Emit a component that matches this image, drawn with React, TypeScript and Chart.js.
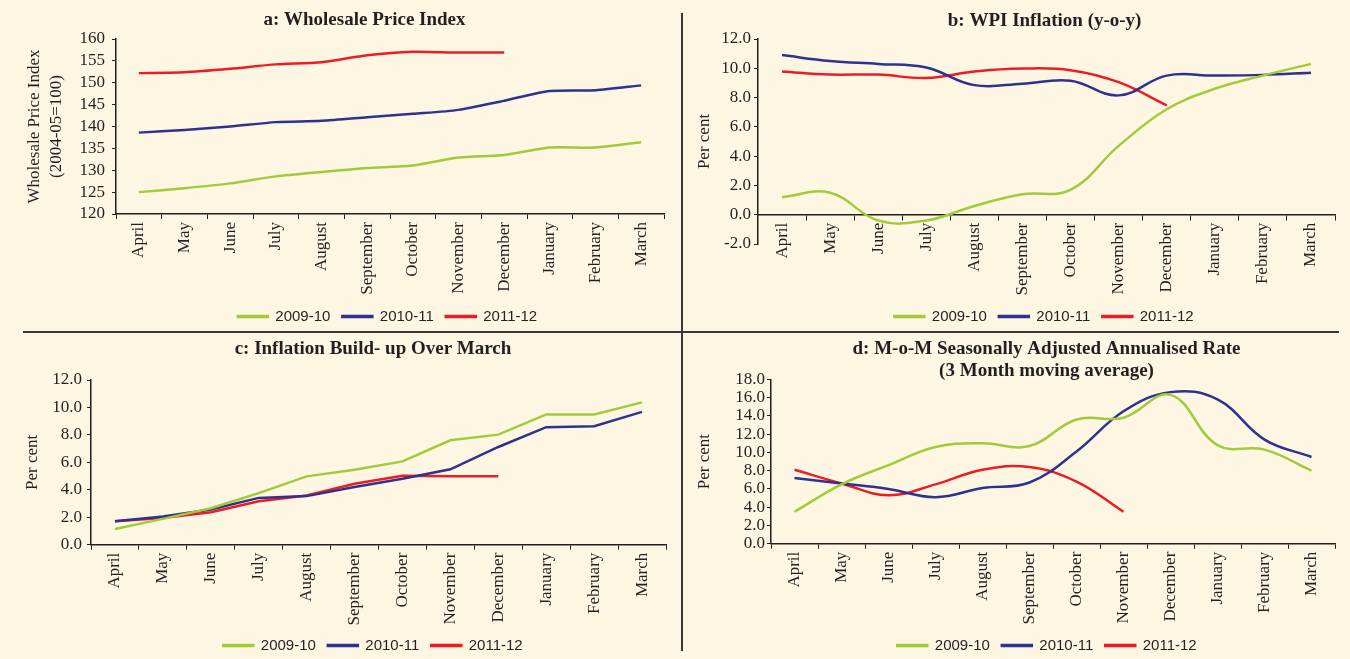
import React, { useEffect, useRef } from "react";
import { Chart, registerables } from "chart.js";

Chart.register(...registerables);

// ---------- data ----------
const months = ["April", "May", "June", "July", "August", "September", "October", "November", "December", "January", "February", "March"];
const seriesLabels = ["2009-10", "2010-11", "2011-12"];
const seriesColors = ["#A2CB3A", "#2E3192", "#ED1C24"];

// a: Wholesale Price Index
const wpi0910 = [125.0, 125.9, 127.0, 128.6, 129.6, 130.5, 131.1, 132.9, 133.5, 135.2, 135.2, 136.4];
const wpi1011 = [138.6, 139.2, 140.0, 141.0, 141.3, 142.1, 142.9, 143.8, 145.9, 148.1, 148.3, 149.4];
const wpi1112 = [152.2, 152.4, 153.2, 154.2, 154.7, 156.3, 157.1, 156.9, 156.9];

// b: WPI Inflation (y-o-y)
const yoy0910 = [1.2, 1.5, -0.4, -0.4, 0.6, 1.4, 1.7, 4.7, 7.2, 8.6, 9.5, 10.3];
const yoy1011 = [10.9, 10.5, 10.3, 10.05, 8.85, 8.95, 9.15, 8.15, 9.5, 9.5, 9.55, 9.7];
const yoy1112 = [9.78, 9.57, 9.57, 9.34, 9.78, 9.98, 9.87, 9.05, 7.47];

// c: Inflation Build-up Over March
const bu0910 = [1.15, 1.88, 2.66, 3.76, 4.98, 5.46, 6.07, 7.61, 8.02, 9.49, 9.49, 10.37];
const bu1011 = [1.71, 2.05, 2.56, 3.41, 3.54, 4.2, 4.8, 5.49, 7.12, 8.56, 8.63, 9.68];
const bu1112 = [1.71, 1.95, 2.37, 3.17, 3.59, 4.44, 5.02, 4.98, 4.98];

// d: M-o-M SAAR (3 month moving average)
const saar0910 = [3.5, 6.5, 8.6, 10.6, 11.0, 10.7, 13.6, 13.8, 16.3, 10.8, 10.3, 8.0];
const saar1011 = [7.2, 6.6, 6.0, 5.1, 6.1, 6.7, 10.1, 14.5, 16.6, 15.8, 11.4, 9.5];
const saar1112 = [8.1, 6.6, 5.3, 6.5, 8.1, 8.4, 6.8, 3.5];

// ---------- styles ----------
const SERIF = "'Liberation Serif', 'DejaVu Serif', serif";
const SANS = "'Liberation Sans', 'DejaVu Sans', sans-serif";
const INK = "#231f20";
const BG = "#FDF6E2";

interface PanelProps {
  left: number;
  top: number;
  width: number;
  height: number;
  title: string | string[];
  titleLH: number;
  titlePadTop: number;
  titlePadBottom: number;
  titleCenter: number;
  legendCenter: number;
  yMin: number;
  yMax: number;
  yStep: number;
  yDec: number;
  yTitle: string | string[];
  yTitlePad: number;
  yWidth: number;
  yTickPad: number;
  xHeight: number;
  xAtZero: boolean;
  padRight: number;
  tension: number;
  series: number[][];
}

function Panel(p: PanelProps) {
  const ref = useRef<HTMLCanvasElement>(null);
  useEffect(() => {
    const canvas = ref.current;
    if (!canvas) return;
    const datasets = p.series.map((vals, i) => ({
      label: seriesLabels[i],
      data: vals,
      borderColor: seriesColors[i],
      backgroundColor: seriesColors[i],
      borderWidth: 2.5,
      pointRadius: 0,
      pointHoverRadius: 0,
      tension: p.tension,
      fill: false,
      xAxisID: "x",
      yAxisID: "y",
    }));

    const scales: any = {
      x: {
        type: "category",
        offset: true,
        position: p.xAtZero ? { y: 0 } : "bottom",
        ticks: {
          color: INK,
          font: { family: SERIF, size: 17 },
          maxRotation: 90,
          minRotation: 90,
          autoSkip: false,
          padding: 3,
        },
        grid: { offset: true, drawOnChartArea: false, drawTicks: true, tickLength: 5, color: INK, lineWidth: 1 },
        border: { display: true, color: INK, width: 1.5 },
        afterFit: (s: any) => {
          if (!p.xAtZero) s.height = p.xHeight;
        },
      },
      y: {
        type: "linear",
        min: p.yMin,
        max: p.yMax,
        ticks: {
          stepSize: p.yStep,
          autoSkip: false,
          color: INK,
          font: { family: SERIF, size: 17 },
          padding: p.yTickPad,
          callback: (v: any) => Number(v).toFixed(p.yDec),
        },
        grid: { drawOnChartArea: false, drawTicks: true, tickLength: 4, color: INK, lineWidth: 1 },
        border: { display: true, color: INK, width: 1.5 },
        title: {
          display: true,
          text: p.yTitle,
          color: INK,
          font: { family: SERIF, size: 17, lineHeight: 1.3 },
          padding: { top: p.yTitlePad, bottom: 0 },
        },
        afterFit: (s: any) => {
          s.width = p.yWidth;
        },
      },
    };
    if (p.xAtZero) {
      scales.xpad = {
        type: "category",
        axis: "x",
        position: "bottom",
        labels: months,
        display: true,
        ticks: { display: false },
        grid: { display: false, drawTicks: false },
        border: { display: false },
        afterFit: (s: any) => {
          s.height = p.xHeight;
        },
      };
    }

    const shift = {
      id: "shiftBlocks",
      afterLayout(chart: any) {
        const t = chart.titleBlock;
        if (t) {
          const w = t.right - t.left;
          t.left = p.titleCenter - w / 2;
          t.right = p.titleCenter + w / 2;
        }
        const l = chart.legend;
        if (l) {
          const w = l.right - l.left;
          l.left = p.legendCenter - w / 2;
          l.right = p.legendCenter + w / 2;
        }
      },
    };

    const chart = new Chart(canvas, {
      type: "line",
      data: { labels: months, datasets },
      options: {
        responsive: false,
        animation: false,
        devicePixelRatio: 1,
        layout: { padding: { left: 0, right: p.padRight, top: 0, bottom: 0 } },
        plugins: {
          title: {
            display: true,
            text: p.title,
            color: INK,
            fullSize: false,
            font: { family: SERIF, size: 19, weight: "bold", lineHeight: p.titleLH },
            padding: { top: p.titlePadTop, bottom: p.titlePadBottom },
          },
          legend: {
            display: true,
            position: "bottom",
            fullSize: false,
            labels: {
              boxWidth: 30,
              boxHeight: 1,
              padding: 12,
              color: INK,
              font: { family: SANS, size: 15 },
            },
          },
          tooltip: { enabled: false },
        },
        scales,
      } as any,
      plugins: [shift],
    });
    return () => chart.destroy();
  }, []);
  return (
    <canvas
      ref={ref}
      width={p.width}
      height={p.height}
      style={{ position: "absolute", left: p.left, top: p.top, width: p.width, height: p.height }}
    />
  );
}

export default function App() {
  return (
    <div
      style={{
        position: "fixed",
        left: 0,
        top: 0,
        width: 1350,
        height: 659,
        overflow: "hidden",
        background: BG,
      }}
    >
      <Panel
        left={0}
        top={0}
        width={680}
        height={334}
        title="a: Wholesale Price Index"
        titleLH={1.2}
        titlePadTop={9}
        titlePadBottom={7.2}
        titleCenter={364.5}
        legendCenter={387.5}
        yMin={120}
        yMax={160}
        yStep={5}
        yDec={0}
        yTitle={["Wholesale Price Index", "(2004-05=100)"]}
        yTitlePad={23}
        yWidth={116}
        yTickPad={7}
        xHeight={83}
        xAtZero={false}
        padRight={16}
        tension={0.25}
        series={[wpi0910, wpi1011, wpi1112]}
      />
      <Panel
        left={682}
        top={0}
        width={668}
        height={334}
        title="b: WPI Inflation (y-o-y)"
        titleLH={1.2}
        titlePadTop={9.5}
        titlePadBottom={6.7}
        titleCenter={362.6}
        legendCenter={362}
        yMin={-2}
        yMax={12}
        yStep={2}
        yDec={1}
        yTitle="Per cent"
        yTitlePad={11.5}
        yWidth={76}
        yTickPad={3}
        xHeight={53}
        xAtZero={true}
        padRight={15}
        tension={0.4}
        series={[yoy0910, yoy1011, yoy1112]}
      />
      <Panel
        left={0}
        top={332}
        width={680}
        height={331}
        title="c: Inflation Build- up Over March"
        titleLH={1.2}
        titlePadTop={5.6}
        titlePadBottom={19.6}
        titleCenter={373}
        legendCenter={373}
        yMin={0}
        yMax={12}
        yStep={2}
        yDec={1}
        yTitle="Per cent"
        yTitlePad={21.5}
        yWidth={91}
        yTickPad={5}
        xHeight={81.3}
        xAtZero={false}
        padRight={14}
        tension={0}
        series={[bu0910, bu1011, bu1112]}
      />
      <Panel
        left={682}
        top={332}
        width={668}
        height={331}
        title={["d: M-o-M Seasonally Adjusted Annualised Rate", "(3 Month moving average)"]}
        titleLH={1.18}
        titlePadTop={5.8}
        titlePadBottom={-3.3}
        titleCenter={364.5}
        legendCenter={365}
        yMin={0}
        yMax={18}
        yStep={2}
        yDec={1}
        yTitle="Per cent"
        yTitlePad={11.5}
        yWidth={89}
        yTickPad={2}
        xHeight={82.3}
        xAtZero={false}
        padRight={15}
        tension={0.4}
        series={[saar0910, saar1011, saar1112]}
      />
      <div style={{ position: "absolute", left: 23, top: 331, width: 1316, height: 2, background: "#3a3836" }} />
      <div style={{ position: "absolute", left: 681, top: 13, width: 2, height: 638, background: "#3a3836" }} />
    </div>
  );
}
